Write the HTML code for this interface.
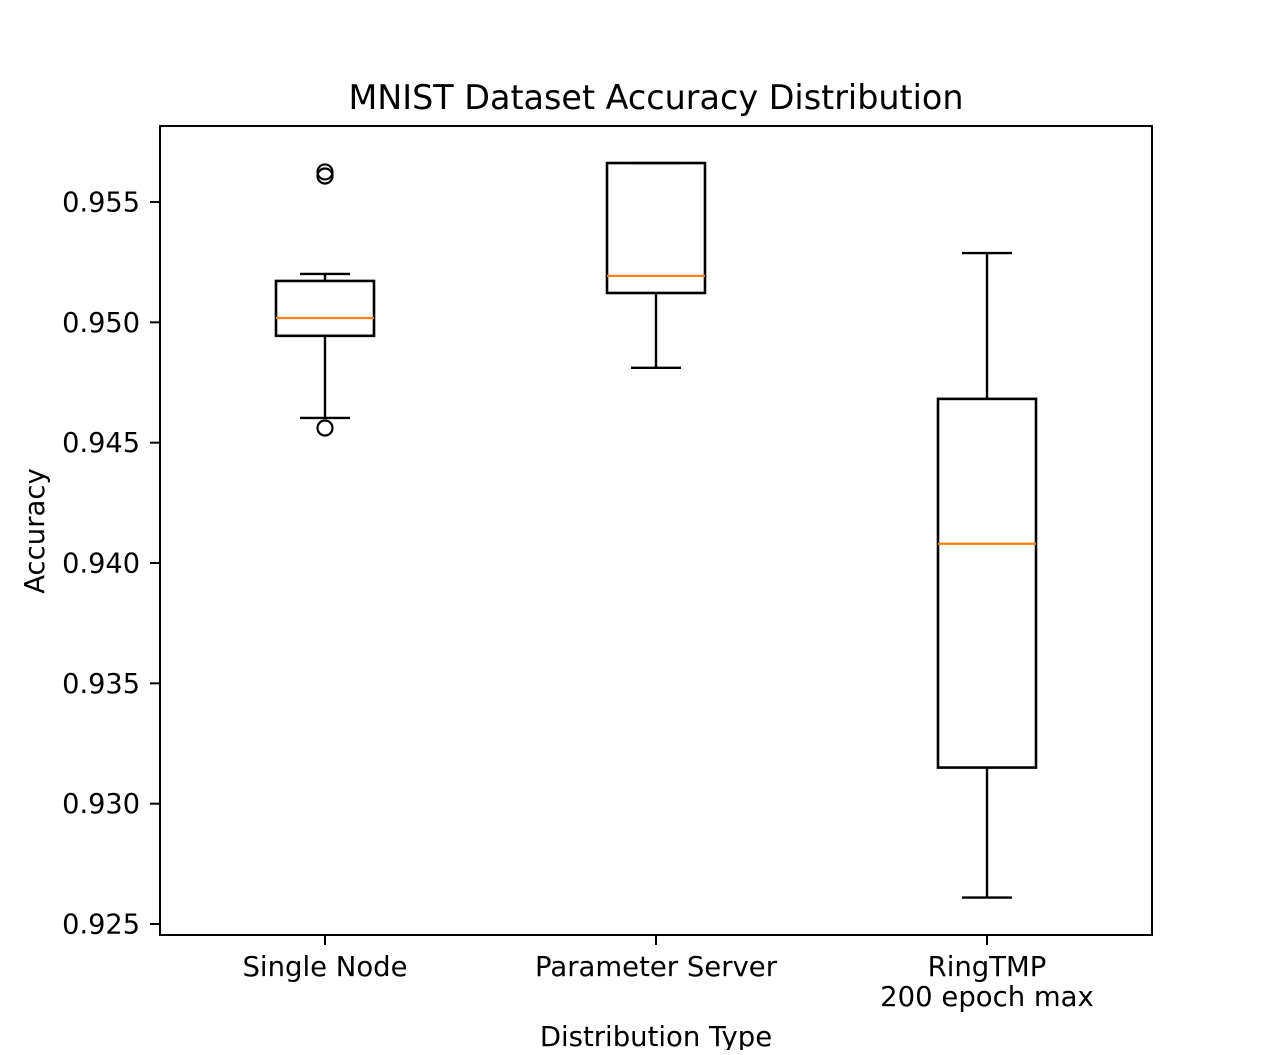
<!DOCTYPE html>
<html><head><meta charset="utf-8"><style>
body{margin:0;background:#fff}
svg text{font-family:"DejaVu Sans","Liberation Sans",sans-serif;fill:#000}
</style></head><body>
<svg id="chart" width="1280" height="1050" xmlns="http://www.w3.org/2000/svg">
<rect width="1280" height="1050" fill="#fff"/>
<g id="g"></g>
</svg>
<script>
const categories = ["Single Node", "Parameter Server", "RingTMP\n200 epoch max"];
const whiskerLow = [0.94603, 0.94811, 0.92610];
const q1 = [0.94944, 0.95122, 0.93150];
const median = [0.95018, 0.95193, 0.94080];
const q3 = [0.95172, 0.95662, 0.94682];
const whiskerHigh = [0.95201, 0.95662, 0.95288];
const outliers = [[0.94561, 0.95608, 0.95625], [], []];
const yTicks = [0.925, 0.930, 0.935, 0.940, 0.945, 0.950, 0.955];
const yTickLabels = ["0.925", "0.930", "0.935", "0.940", "0.945", "0.950", "0.955"];

const L=160,R=1152,T=126,B=935;
const yAt = v => 924 + (v-0.925)/0.005*(-120.33);
const xAt = i => 325 + i*331;
const NS="http://www.w3.org/2000/svg";
const g=document.getElementById('g');
function mk(tag,attrs,parent){const e=document.createElementNS(NS,tag);for(const k in attrs)e.setAttribute(k,attrs[k]);(parent||g).appendChild(e);return e;}
function line(x1,y1,x2,y2,c,w){return mk('line',{x1,y1,x2,y2,stroke:c||'#000','stroke-width':w||2.4});}

categories.forEach((c,i)=>{
  const x=xAt(i);
  const grp=mk('g',{});
  
  
  const hw=49, cw=25;
  const add=(e)=>{grp.appendChild(e);};
  add(line(x,yAt(q1[i]),x,yAt(whiskerLow[i])));
  add(line(x,yAt(q3[i]),x,yAt(whiskerHigh[i])));
  add(line(x-cw,yAt(whiskerLow[i]),x+cw,yAt(whiskerLow[i])));
  add(line(x-cw,yAt(whiskerHigh[i]),x+cw,yAt(whiskerHigh[i])));
  mk('rect',{x:x-hw,y:yAt(q3[i]),width:2*hw,height:yAt(q1[i])-yAt(q3[i]),fill:'none',stroke:'#000','stroke-width':2.6},grp);
  add(line(x-hw,yAt(median[i]),x+hw,yAt(median[i]),'#ff7f0e',2.2));
  outliers[i].forEach(v=>{
    const o=mk('circle',{cx:x,cy:yAt(v),r:7.5,fill:'none',stroke:'#000','stroke-width':2.2},grp);
    
    
  });
  line(x,B,x,B+10,'#000',2);
  const lines=c.split('\n');
  lines.forEach((s,j)=>{
    const t=mk('text',{x:x,y:976+j*30,'text-anchor':'middle','font-size':'27.5'});
    t.textContent=s;
    
    
  });
});
yTicks.forEach((v,i)=>{
  const y=yAt(v);
  line(L-10,y,L,y,'#000',2);
  const t=mk('text',{x:L-20,y:y+9.5,'text-anchor':'end','font-size':'27.2'});
  t.textContent=yTickLabels[i];
  
  
});
const frame=mk('rect',{x:L,y:T,width:R-L,height:B-T,fill:'none',stroke:'#000','stroke-width':2});


const title=mk('text',{x:656,y:109,'text-anchor':'middle','font-size':'33.4'});
title.textContent='MNIST Dataset Accuracy Distribution';


const xl=mk('text',{x:656,y:1046,'text-anchor':'middle','font-size':'27.5'});
xl.textContent='Distribution Type';


const yl=mk('text',{x:0,y:0,'text-anchor':'middle','font-size':'27.5',transform:'translate(44,531) rotate(-90)'});
yl.textContent='Accuracy';


</script>
</body></html>
